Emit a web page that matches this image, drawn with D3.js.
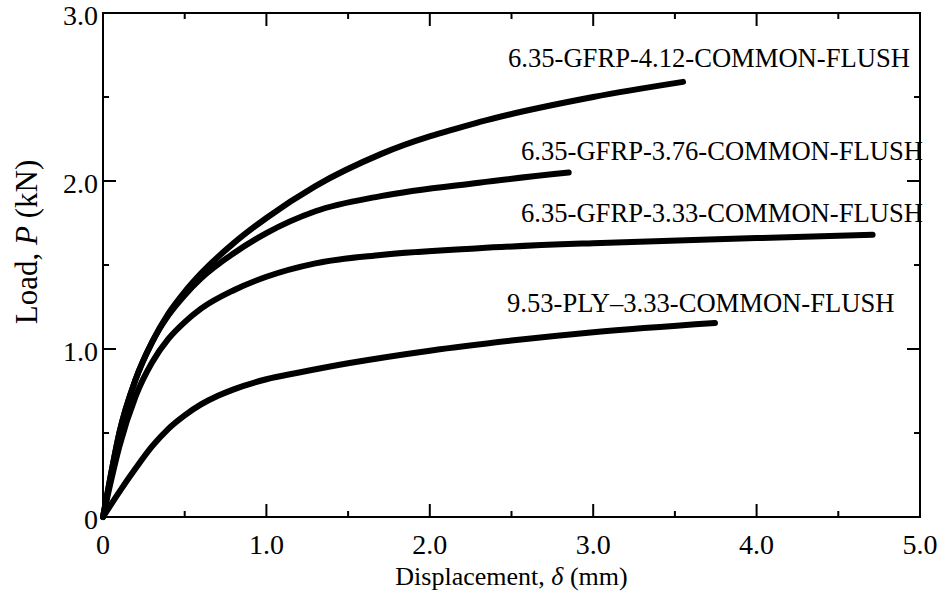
<!DOCTYPE html>
<html>
<head>
<meta charset="utf-8">
<script src="https://cdn.jsdelivr.net/npm/d3@7"></script>
<style>
  body { margin: 0; background: #fff; }
  text { font-family: "Liberation Serif", "Times New Roman", serif; fill: #000; }
</style>
</head>
<body>
<div id="chart"></div>
<script>
// Chart Params
var svgWidth = 948;
var svgHeight = 599;

var margin = { top: 13, right: 28, bottom: 82, left: 103 };
var width = svgWidth - margin.left - margin.right;
var height = svgHeight - margin.top - margin.bottom;

// data: displacement (mm) and load (kN)
var dispA = [0, 0.05, 0.1, 0.2, 0.3, 0.4, 0.5, 0.6, 0.8, 1.0, 1.3, 1.7, 2.3, 3.0, 3.55];
var loadA = [0, 0.26, 0.50, 0.82, 1.04, 1.21, 1.34, 1.45, 1.63, 1.78, 1.97, 2.16, 2.35, 2.50, 2.59];

var dispB = [0, 0.05, 0.1, 0.2, 0.3, 0.4, 0.5, 0.6, 0.8, 1.0, 1.3, 1.7, 2.3, 2.85];
var loadB = [0, 0.26, 0.50, 0.82, 1.04, 1.20, 1.32, 1.42, 1.57, 1.69, 1.82, 1.91, 1.99, 2.05];

var dispC = [0, 0.05, 0.1, 0.2, 0.3, 0.4, 0.5, 0.6, 0.8, 1.0, 1.3, 1.7, 2.3, 3.0, 4.0, 4.71];
var loadC = [0, 0.22, 0.42, 0.72, 0.92, 1.06, 1.16, 1.24, 1.35, 1.43, 1.51, 1.56, 1.60, 1.63, 1.66, 1.68];

var dispD = [0, 0.1, 0.2, 0.3, 0.4, 0.5, 0.6, 0.7, 0.8, 1.0, 1.2, 1.5, 2.0, 2.5, 3.0, 3.745];
var loadD = [0, 0.15, 0.29, 0.42, 0.525, 0.605, 0.67, 0.72, 0.76, 0.82, 0.86, 0.915, 0.99, 1.05, 1.10, 1.155];

var seriesNames = [
  "6.35-GFRP-4.12-COMMON-FLUSH",
  "6.35-GFRP-3.76-COMMON-FLUSH",
  "6.35-GFRP-3.33-COMMON-FLUSH",
  "9.53-PLY\u20133.33-COMMON-FLUSH"
];

var xTicks = [0, 1, 2, 3, 4, 5];
var xTickLabels = ["0", "1.0", "2.0", "3.0", "4.0", "5.0"];
var yTicks = [0, 1, 2, 3];
var yTickLabels = ["0", "1.0", "2.0", "3.0"];
var xMinor = [0.5, 1.5, 2.5, 3.5, 4.5];
var yMinor = [0.5, 1.5, 2.5];

var series = [
  { name: seriesNames[0], x: dispA, y: loadA, lx: 508, ly: 67 },
  { name: seriesNames[1], x: dispB, y: loadB, lx: 521, ly: 160 },
  { name: seriesNames[2], x: dispC, y: loadC, lx: 521, ly: 222 },
  { name: seriesNames[3], x: dispD, y: loadD, lx: 507, ly: 312 }
];

var svg = d3.select("#chart")
  .append("svg")
  .attr("width", svgWidth)
  .attr("height", svgHeight);

var chartGroup = svg.append("g")
  .attr("transform", `translate(${margin.left}, ${margin.top})`);

var x = d3.scaleLinear().domain([0, 5]).range([0, width]);
var y = d3.scaleLinear().domain([0, 3]).range([height, 0]);

// ticks pointing inward on all four sides
function tickMarks(vals, len) {
  chartGroup.selectAll(null).data(vals).enter().append("line")
    .attr("x1", d => x(d)).attr("x2", d => x(d))
    .attr("y1", height).attr("y2", height - len)
    .attr("stroke", "#000").attr("stroke-width", 2);
  chartGroup.selectAll(null).data(vals).enter().append("line")
    .attr("x1", d => x(d)).attr("x2", d => x(d))
    .attr("y1", 0).attr("y2", len)
    .attr("stroke", "#000").attr("stroke-width", 2);
}
function yTickMarks(vals, len) {
  chartGroup.selectAll(null).data(vals).enter().append("line")
    .attr("y1", d => y(d)).attr("y2", d => y(d))
    .attr("x1", 0).attr("x2", len)
    .attr("stroke", "#000").attr("stroke-width", 2);
  chartGroup.selectAll(null).data(vals).enter().append("line")
    .attr("y1", d => y(d)).attr("y2", d => y(d))
    .attr("x1", width).attr("x2", width - len)
    .attr("stroke", "#000").attr("stroke-width", 2);
}
tickMarks(xTicks.slice(1, -1), 13);
tickMarks(xMinor, 6);
yTickMarks(yTicks.slice(1, -1), 13);
yTickMarks(yMinor, 6);

// frame
chartGroup.append("rect")
  .attr("x", 0).attr("y", 0)
  .attr("width", width).attr("height", height)
  .attr("fill", "none")
  .attr("stroke", "#000")
  .attr("stroke-width", 2);

// tick labels
chartGroup.selectAll(null).data(xTicks).enter().append("text")
  .attr("x", d => x(d))
  .attr("y", height + 37)
  .attr("text-anchor", "middle")
  .attr("font-size", "28px")
  .text((d, i) => xTickLabels[i]);

chartGroup.selectAll(null).data(yTicks).enter().append("text")
  .attr("x", -5)
  .attr("y", d => y(d))
  .attr("dy", "0.42em")
  .attr("text-anchor", "end")
  .attr("font-size", "28px")
  .text((d, i) => yTickLabels[i]);

// curves
var line = d3.line()
  .x(d => x(d[0]))
  .y(d => y(d[1]))
  .curve(d3.curveMonotoneX);

series.forEach(function(s) {
  var pts = s.x.map((v, i) => [v, s.y[i]]);
  chartGroup.append("path")
    .datum(pts)
    .attr("d", line)
    .attr("fill", "none")
    .attr("stroke", "#000")
    .attr("stroke-width", 6)
    .attr("stroke-linecap", "round")
    .attr("stroke-linejoin", "round");
});

// curve labels
svg.selectAll(".curveLabel")
  .data(series)
  .enter()
  .append("text")
  .attr("class", "curveLabel")
  .attr("x", d => d.lx)
  .attr("y", d => d.ly)
  .attr("font-size", "26.6px")
  .text(d => d.name);

// axis titles
var xTitle = svg.append("text")
  .attr("x", margin.left + width / 2)
  .attr("y", 585)
  .attr("text-anchor", "middle")
  .attr("font-size", "26px");
xTitle.append("tspan").text("Displacement, ");
xTitle.append("tspan").attr("font-style", "italic").text("\u03b4");
xTitle.append("tspan").text(" (mm)");

var yTitle = svg.append("text")
  .attr("transform", "translate(37, 242) rotate(-90)")
  .attr("text-anchor", "middle")
  .attr("font-size", "31px");
yTitle.append("tspan").text("Load, ");
yTitle.append("tspan").attr("font-style", "italic").text("P");
yTitle.append("tspan").text(" (kN)");
</script>
</body>
</html>
